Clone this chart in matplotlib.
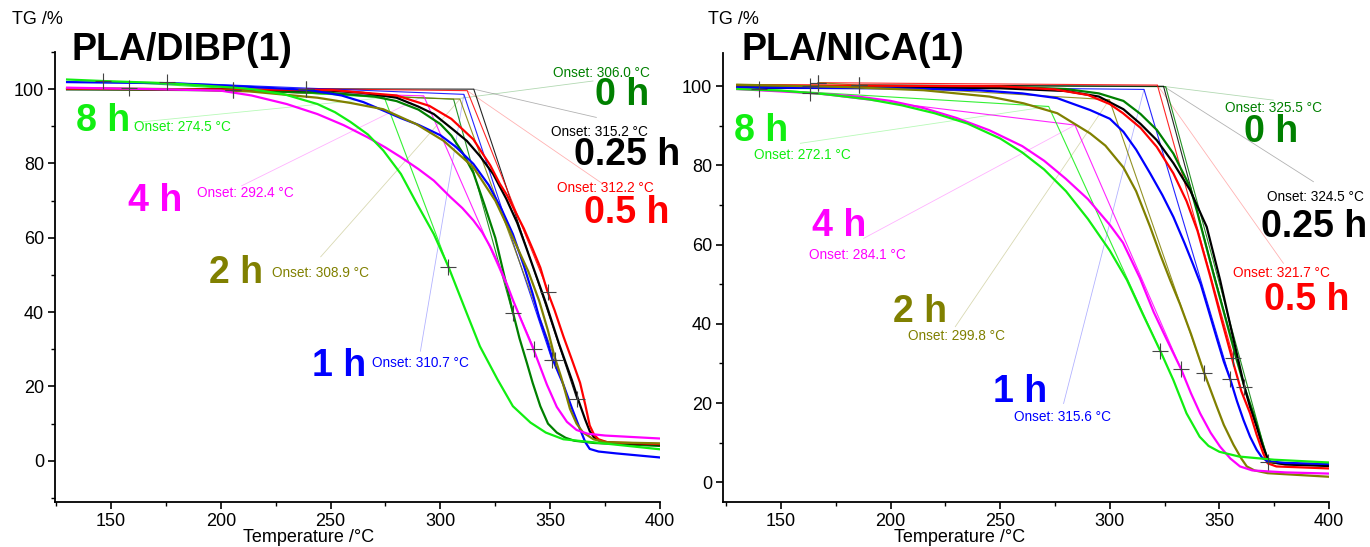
import matplotlib.pyplot as plt
from matplotlib.ticker import MultipleLocator

plt.rcParams['font.family'] = ['Liberation Sans', 'DejaVu Sans']

hours = ['0 h', '0.25 h', '0.5 h', '1 h', '2 h', '4 h', '8 h']
colors = ['#008000', '#000000', '#ff0000', '#0000ff', '#808000', '#ff00ff', '#11ee11']

# ---------------- PLA/DIBP(1) ----------------
dibp_t_0h = [130, 200, 250, 270, 280, 290, 300, 305, 310, 315, 320, 325, 329, 333, 336, 339.4, 342, 345.5, 349, 353, 357, 361, 370, 400]
dibp_tg_0h = [100.0, 99.7, 99.0, 98.0, 96.8, 94.5, 90.6, 87.5, 83.0, 77.5, 69.0, 60.0, 50.0, 40.0, 33.0, 26.3, 21.0, 14.7, 10.0, 7.6, 6.2, 5.4, 4.8, 4.0]

dibp_t_025h = [130, 200, 250, 265, 280, 290, 297, 305, 312, 318, 324, 330, 335, 339, 342, 345, 348, 351, 354, 357, 360, 363, 366, 368, 370, 373, 380, 400]
dibp_tg_025h = [100.0, 100.0, 99.6, 99.0, 97.7, 95.3, 93.3, 89.5, 86.1, 82.0, 77.2, 70.5, 64.0, 57.5, 52.5, 47.5, 42.5, 37.0, 31.5, 26.5, 21.5, 16.0, 11.0, 8.0, 6.3, 5.2, 4.8, 4.4]

dibp_t_05h = [130, 250, 280, 295, 305, 315, 322.7, 327, 330.3, 335, 338, 342, 345.5, 348.5, 352, 356, 360, 363.6, 366, 368, 370, 372, 376, 400]
dibp_tg_05h = [100.1, 99.8, 98.3, 95.5, 92.0, 86.5, 79.5, 74.6, 71.5, 66.0, 62.5, 57.0, 52.0, 46.0, 40.5, 33.5, 27.0, 21.0, 15.0, 9.5, 7.0, 5.8, 5.0, 4.5]

dibp_t_1h = [130, 175, 200, 240, 255, 265, 275, 282, 290, 300, 307, 315, 322, 328, 333, 338, 342, 345, 348.5, 351, 356, 360, 363.6, 366, 368, 372, 380, 400]
dibp_tg_1h = [101.9, 101.6, 101.0, 99.8, 98.3, 96.5, 94.0, 92.2, 90.4, 87.6, 84.5, 79.9, 74.2, 67.5, 61.0, 52.5, 45.0, 38.5, 32.5, 27.5, 20.5, 14.0, 8.5, 5.0, 3.2, 2.5, 2.0, 0.9]

dibp_t_2h = [130, 180, 213, 244, 259, 274, 289, 301.5, 315, 325, 333, 340, 345, 349, 352, 355, 359, 362, 365, 369.7, 375, 400]
dibp_tg_2h = [100.3, 100.0, 99.4, 97.7, 96.3, 94.6, 90.6, 86.1, 79.0, 70.0, 60.0, 51.0, 43.0, 35.0, 28.0, 22.5, 14.0, 10.0, 7.6, 5.8, 5.0, 4.7]

dibp_t_4h = [130, 170, 200, 214, 230, 244, 256, 267, 275, 282, 290, 297, 304.5, 310, 315, 319, 322.7, 326.5, 330.3, 333, 336, 342.4, 348.5, 353, 357.6, 362, 367, 375, 400]
dibp_tg_4h = [100.4, 100.0, 99.6, 98.3, 96.0, 93.3, 90.3, 87.0, 84.3, 81.7, 78.5, 75.4, 71.0, 68.0, 64.7, 61.5, 57.6, 52.8, 47.5, 43.3, 39.0, 30.0, 20.5, 14.5, 10.5, 8.3, 7.3, 6.8, 6.0]

dibp_t_8h = [130, 146, 176, 206, 214, 229, 244, 252, 259, 267, 274, 282, 289, 297, 303.6, 312, 318, 326, 333, 341, 348, 356, 371, 400]
dibp_tg_8h = [102.6, 102.2, 101.6, 100.4, 100.0, 98.6, 96.0, 93.8, 91.2, 87.8, 83.5, 77.2, 69.5, 61.0, 52.3, 39.7, 30.8, 21.9, 14.7, 10.3, 7.6, 5.8, 4.9, 3.1]

# onset evaluation (extrapolated onset, baseline start, inflection mark)
dibp_onset = [306.0, 315.2, 312.2, 310.7, 308.9, 292.4, 274.5]
dibp_onset_tg = [97.3, 100.0, 99.6, 98.6, 97.3, 98.2, 97.7]
dibp_base_t = [205.6, 239.0, 239.0, 175.3, 205.6, 158.3, 146.2]
dibp_base_tg = [99.7, 100.1, 100.1, 101.8, 99.7, 100.2, 102.2]
dibp_step_t = [332.9, 362.1, 349.2, 350.8, 352.3, 342.7, 303.6]
dibp_step_tg = [39.7, 16.7, 45.5, 27.2, 27.2, 30.1, 52.2]

# ---------------- PLA/NICA(1) ----------------
nica_t_0h = [130, 250, 280, 295, 306.2, 314, 321.4, 329, 336.6, 340, 344, 348, 352, 357.9, 362, 365.5, 369, 371.6, 373.5, 380, 400]
nica_tg_0h = [100.0, 99.9, 99.3, 98.2, 96.3, 93.0, 89.0, 83.0, 74.6, 68.0, 59.5, 51.1, 43.0, 30.9, 23.0, 17.4, 11.0, 6.5, 5.0, 4.6, 4.4]

nica_t_025h = [130, 250, 280, 295, 306.2, 314, 321.4, 329, 336.6, 344.2, 350.3, 354, 357.5, 361.4, 364, 367, 369.5, 371.6, 373, 380, 400]
nica_tg_025h = [99.6, 99.5, 98.8, 97.4, 94.2, 90.5, 86.4, 80.6, 73.8, 64.5, 51.1, 42.0, 33.5, 24.1, 19.0, 14.0, 9.5, 6.5, 5.2, 4.5, 4.1]

nica_t_05h = [130, 250, 275, 290, 300, 306, 314, 321.4, 329, 335, 340, 345.8, 351, 356.4, 360, 364, 367, 370, 372, 376, 400]
nica_tg_05h = [100.3, 100.0, 99.2, 97.8, 95.5, 93.2, 89.5, 84.7, 78.0, 71.0, 63.5, 52.0, 41.0, 30.0, 23.0, 17.4, 12.0, 7.3, 4.8, 4.0, 3.5]

nica_t_1h = [130, 200, 240, 260, 276, 291, 300, 306.2, 312, 318.4, 324, 329, 334, 338, 341.5, 345, 349, 352, 354.9, 358, 361, 364, 367, 369.5, 372, 380, 400]
nica_tg_1h = [99.7, 99.5, 99.0, 98.2, 97.0, 94.0, 91.8, 88.5, 84.0, 78.0, 72.5, 67.0, 60.5, 55.0, 50.0, 43.5, 36.0, 30.5, 26.1, 20.5, 15.7, 11.5, 8.2, 6.2, 5.3, 4.9, 4.6]

nica_t_2h = [130, 180, 215, 245, 260.6, 276, 291, 298, 306.2, 312, 318.4, 323, 327.5, 332, 337, 343, 348.8, 352, 356.4, 360, 362.5, 366, 372, 400]
nica_tg_2h = [100.4, 99.8, 99.0, 97.4, 95.7, 93.2, 88.1, 85.0, 79.5, 73.5, 64.5, 57.5, 51.1, 45.0, 37.5, 27.7, 19.1, 14.5, 9.5, 6.0, 4.0, 3.0, 2.3, 1.4]

nica_t_4h = [130, 163, 185, 200, 215, 230, 245, 260, 270, 280, 290, 300, 306, 313.8, 320, 326, 332.5, 337, 341.2, 346, 350.3, 355, 359.4, 365, 380, 400]
nica_tg_4h = [99.3, 98.3, 97.4, 96.3, 94.5, 92.0, 88.9, 84.9, 81.2, 76.6, 71.5, 65.0, 60.5, 51.5, 43.0, 36.0, 28.6, 22.5, 17.4, 12.5, 9.0, 6.0, 4.0, 3.0, 2.5, 2.2]

nica_t_8h = [130, 150, 170, 190, 205, 220, 235, 250, 260, 270, 280, 290, 300, 307.8, 315, 323, 329, 335, 341, 345, 350, 359, 375, 400]
nica_tg_8h = [99.3, 98.9, 98.0, 96.7, 95.2, 93.2, 90.6, 86.8, 83.3, 79.0, 73.5, 66.5, 58.5, 51.1, 42.5, 33.2, 25.8, 17.4, 11.5, 9.2, 7.7, 6.5, 5.7, 5.0]

nica_onset = [325.5, 324.5, 321.7, 315.6, 299.8, 284.1, 272.1]
nica_onset_tg = [99.9, 100.0, 100.3, 99.2, 96.6, 90.2, 94.9]
nica_base_t = [185.7, 185.7, 166.9, 163.4, 166.9, 163.4, 139.8]
nica_base_tg = [100.3, 100.3, 100.9, 100.1, 100.9, 98.3, 99.3]
nica_step_t = [372.3, 361.4, 356.4, 354.9, 343.0, 332.5, 323.0]
nica_step_tg = [5.0, 24.1, 31.5, 26.1, 27.7, 28.6, 33.2]

dibp_curves = [(dibp_t_0h, dibp_tg_0h), (dibp_t_025h, dibp_tg_025h), (dibp_t_05h, dibp_tg_05h),
               (dibp_t_1h, dibp_tg_1h), (dibp_t_2h, dibp_tg_2h), (dibp_t_4h, dibp_tg_4h),
               (dibp_t_8h, dibp_tg_8h)]
nica_curves = [(nica_t_0h, nica_tg_0h), (nica_t_025h, nica_tg_025h), (nica_t_05h, nica_tg_05h),
               (nica_t_1h, nica_tg_1h), (nica_t_2h, nica_tg_2h), (nica_t_4h, nica_tg_4h),
               (nica_t_8h, nica_tg_8h)]

# label placement: (big label centre), (onset text left edge), (leader line end)
dibp_labels = [((382.6, 98.3), (351.5, 104.4), (369.5, 102.2)),
               ((385.0, 82.2), (350.3, 88.6), (371.0, 92.4)),
               ((385.0, 66.6), (353.0, 73.3), (374.0, 74.5)),
               ((254.1, 25.4), (269.0, 26.3), (290.9, 29.5)),
               ((206.8, 50.5), (223.5, 50.6), (245.5, 54.9)),
               ((170.0, 70.0), (189.0, 72.0), (209.5, 74.0)),
               ((146.2, 91.5), (160.6, 89.7), (160.6, 91.0))]
nica_labels = [((373.6, 88.4), (352.6, 94.4), (374.6, 96.5)),
               ((393.2, 64.5), (371.6, 72.1), (392.9, 75.9)),
               ((389.8, 46.0), (356.4, 52.9), (379.2, 55.3)),
               ((259.1, 22.7), (256.4, 16.6), (278.9, 19.9)),
               ((213.5, 43.1), (207.7, 37.0), (229.5, 39.3)),
               ((176.3, 64.7), (162.9, 57.5), (187.7, 61.6)),
               ((140.8, 88.6), (137.5, 82.7), (158.8, 85.6))]

fig = plt.figure(figsize=(13.7, 5.47), dpi=100)
ax1 = fig.add_axes([55 / 1370, 45.3 / 547, 605 / 1370, 449.7 / 547])
ax2 = fig.add_axes([723 / 1370, 45.3 / 547, 606 / 1370, 448.7 / 547])


def draw_panel(ax, curves, onset, onset_tg, base_t, base_tg, step_t, step_tg, labels, xlim, ylim):
    for i in range(len(curves)):
        c = colors[i]
        # leader line from the label to the onset point
        lx, ly = labels[i][2]
        ax.plot([lx, onset[i]], [ly, onset_tg[i]], color=c, lw=0.6, alpha=0.3, zorder=1,
                clip_on=False)
        # baseline + tangent construction
        ax.plot([base_t[i], onset[i], step_t[i]], [base_tg[i], onset_tg[i], step_tg[i]],
                color=c, lw=0.8, alpha=0.85, zorder=2)
    for i in range(len(curves)):
        t, tg = curves[i]
        ax.plot(t, tg, color=colors[i], lw=1.6, zorder=3)
    ax.plot(base_t, base_tg, '+', color='#444444', ms=11, mew=0.8, zorder=4)
    ax.plot(step_t, step_tg, '+', color='#444444', ms=11, mew=0.8, zorder=4)

    for i in range(len(curves)):
        (bx, by), (ox, oy), _ = labels[i]
        ax.text(bx, by, hours[i], color=colors[i], fontsize=27, fontweight='bold',
                ha='center', va='center', clip_on=False)
        ax.text(ox, oy, 'Onset: %.1f °C' % onset[i], color=colors[i], fontsize=9.8,
                ha='left', va='center', clip_on=False)

    ax.set_xlim(*xlim)
    ax.set_ylim(*ylim)
    for s in ['top', 'right']:
        ax.spines[s].set_visible(False)
    for s in ['left', 'bottom']:
        ax.spines[s].set_linewidth(1.3)
    ax.set_xticks([150, 200, 250, 300, 350, 400])
    ax.set_yticks([0, 20, 40, 60, 80, 100])
    ax.xaxis.set_minor_locator(MultipleLocator(25))
    ax.yaxis.set_minor_locator(MultipleLocator(10))
    ax.tick_params(which='major', direction='out', length=5, width=1.2, labelsize=13, pad=3)
    ax.tick_params(which='minor', direction='out', length=3, width=1.0)


draw_panel(ax1, dibp_curves, dibp_onset, dibp_onset_tg, dibp_base_t, dibp_base_tg,
           dibp_step_t, dibp_step_tg, dibp_labels, (124.5, 400), (-11, 110))
draw_panel(ax2, nica_curves, nica_onset, nica_onset_tg, nica_base_t, nica_base_tg,
           nica_step_t, nica_step_tg, nica_labels, (123.5, 400), (-4.9, 108.4))

fig.text(12 / 1370, 1 - 20 / 547, 'TG /%', fontsize=13, ha='left', va='center')
fig.text(708 / 1370, 1 - 20 / 547, 'TG /%', fontsize=13, ha='left', va='center')
fig.text(72 / 1370, 1 - 60 / 547, 'PLA/DIBP(1)', fontsize=27, fontweight='bold', ha='left', va='baseline')
fig.text(741 / 1370, 1 - 60 / 547, 'PLA/NICA(1)', fontsize=27, fontweight='bold', ha='left', va='baseline')
fig.text(309 / 1370, 1 - 538 / 547, 'Temperature /°C', fontsize=13, ha='center', va='center')
fig.text(960 / 1370, 1 - 538 / 547, 'Temperature /°C', fontsize=13, ha='center', va='center')

fig.savefig('out.png', dpi=100)
